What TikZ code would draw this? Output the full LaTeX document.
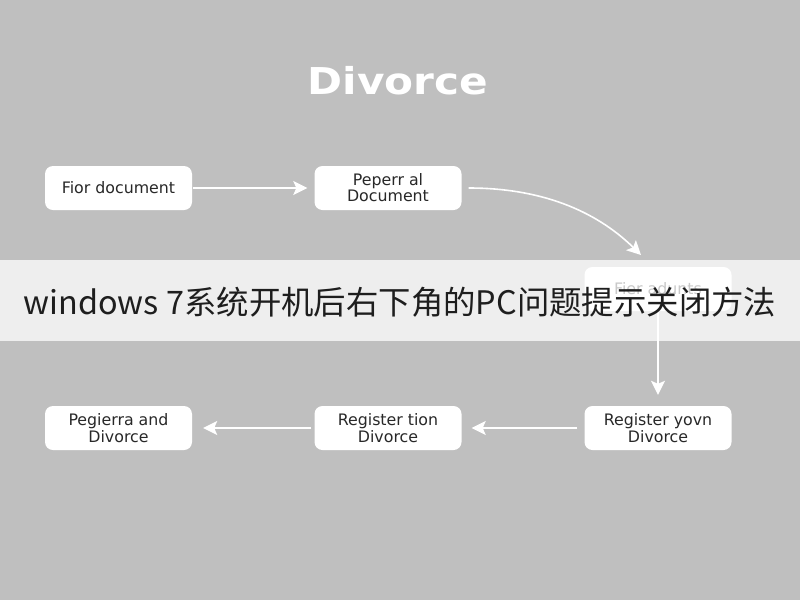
\documentclass[tikz,border=0pt]{standalone}
\usepackage{fontspec}
\setmainfont{DejaVu Sans}
\newfontfamily\cjkfont{Noto Sans CJK SC}
\usetikzlibrary{arrows.meta}
\definecolor{bggray}{RGB}{191,191,191}
\definecolor{boxtext}{RGB}{40,40,40}
\definecolor{bantext}{RGB}{30,30,30}
\tikzset{
  flowbox/.style={fill=white, rounded corners=8pt, minimum width=147pt, minimum height=44pt,
    inner sep=0pt, align=center, text=boxtext,
    font=\fontsize{15.8}{14}\selectfont},
  flowarrow/.style={draw=white, line width=1.6pt,
    -{Stealth[length=14pt,width=14pt,inset=3pt]}},
}
\begin{document}
\begin{tikzpicture}[x=1pt,y=-1pt]
  \fill[bggray] (0,0) rectangle (800,600);
  \useasboundingbox (0,0) rectangle (800,600);
  \node[text=white, font=\fontsize{37}{37}\bfseries\selectfont, xscale=1.14] (title) at (398,81) {Divorce};

  \node[flowbox] (b1) at (118.5,188) {Fior document};
  \node[flowbox] (b2) at (388,188) {Peperr al\\Document};
  \node[flowbox] (b3) at (658,289) {Fier adunts};
  \node[flowbox] (b4) at (658,428) {Register yovn\\Divorce};
  \node[flowbox] (b5) at (388,428) {Register tion\\Divorce};
  \node[flowbox] (b6) at (118.5,428) {Pegierra and\\Divorce};

  \coordinate (c2) at (641,255);
  \draw[flowarrow, shorten <=1pt, shorten >=7pt] (b1) -- (b2);
  \draw[flowarrow] ([xshift=7pt]b2.east) .. controls (540,188) and (595,210) .. (c2);
  \draw[flowarrow, shorten <=0pt, shorten >=11pt] (b3) -- (b4);
  \draw[flowarrow, shorten <=7pt, shorten >=10pt] (b4) -- (b5);
  \draw[flowarrow, shorten <=3pt, shorten >=11pt] (b5) -- (b6);

  \fill[white, opacity=0.75] (0,260) rectangle (800,341);
  \node[text=bantext, font=\cjkfont\fontsize{32.4}{32.4}\selectfont, inner sep=0pt] (banner) at (400,302) {windows 7系统开机后右下角的PC问题提示关闭方法};
\end{tikzpicture}
\end{document}
